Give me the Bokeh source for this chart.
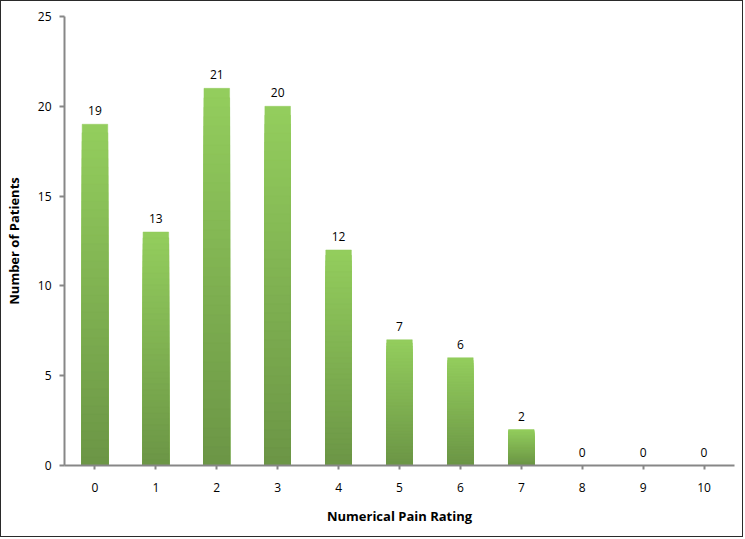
from bokeh.plotting import figure
from bokeh.models import ColumnDataSource, FixedTicker, Range1d, LabelSet
from bokeh.core.properties import value
from bokeh.embed import file_html
from bokeh.resources import INLINE

ratings = [0, 1, 2, 3, 4, 5, 6, 7, 8, 9, 10]
patients = [19, 13, 21, 20, 12, 7, 6, 2, 0, 0, 0]
y_ticks = [0, 5, 10, 15, 20, 25]

FONT = "Open Sans"
p = figure(width=743, height=537, output_backend="svg", toolbar_location=None,
           x_range=Range1d(-0.5, 10.5), y_range=Range1d(0, 25),
           min_border_left=61, min_border_right=10, min_border_top=15, min_border_bottom=73)
p.styles = {"border": "1px solid #2a2a2a"}
p.outline_line_color = None
p.grid.visible = False
p.background_fill_color = "white"
p.border_fill_color = "white"

# gradient bars: layered quads, light at top to dark at bottom
top_c = (0x93, 0xCD, 0x5D)
bot_c = (0x6C, 0x96, 0x46)
N = 40
for k in range(N, 0, -1):
    t = (N - k) / (N - 1)
    c = tuple(int(round(top_c[j] + (bot_c[j] - top_c[j]) * t)) for j in range(3))
    col = "#%02x%02x%02x" % c
    src = ColumnDataSource(dict(x=ratings, top=[v * k / N for v in patients]))
    p.vbar(x="x", top="top", bottom=0, width=0.42, source=src,
           fill_color=col, line_color=col, line_width=0.5)

lab_src = ColumnDataSource(dict(x=ratings, y=patients, t=[str(v) for v in patients]))
p.add_layout(LabelSet(x="x", y="y", text="t", source=lab_src, y_offset=9,
                      text_align="center", text_baseline="bottom",
                      text_font=value(FONT), text_font_size="12px",
                      text_color=value("black")))

for ax in (p.xaxis[0], p.yaxis[0]):
    ax.axis_line_color = "#878787"
    ax.axis_line_width = 2
    ax.major_tick_line_color = "#878787"
    ax.major_tick_line_width = 2
    ax.minor_tick_line_color = None
    ax.major_tick_in = 0
    ax.major_label_text_font = FONT
    ax.major_label_text_font_size = "12px"
    ax.major_label_text_color = "black"
    ax.axis_label_text_font = FONT
    ax.axis_label_text_font_size = "13px"
    ax.axis_label_text_font_style = "bold"
    ax.axis_label_text_color = "black"

p.xaxis.ticker = FixedTicker(ticks=ratings)
p.xaxis.major_tick_out = 4
p.xaxis.major_label_standoff = 13
p.xaxis.axis_label = "Numerical Pain Rating"
p.xaxis.axis_label_standoff = 12

p.yaxis.ticker = FixedTicker(ticks=y_ticks)
p.yaxis.major_tick_out = 5
p.yaxis.major_label_standoff = 8
p.yaxis.axis_label = "Number of Patients"
p.yaxis.axis_label_standoff = 12

open("out.html", "w").write(file_html(p, INLINE))
